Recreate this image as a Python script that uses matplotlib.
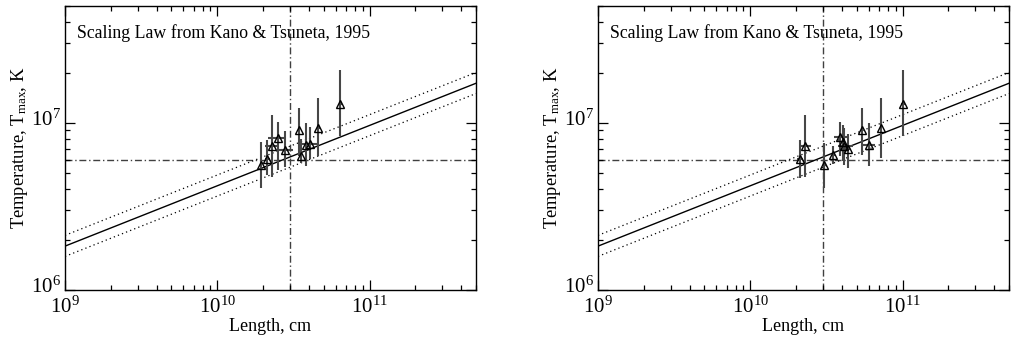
import matplotlib
matplotlib.use("Agg")
import matplotlib.pyplot as plt
import numpy as np
from matplotlib.ticker import LogLocator, NullFormatter
from matplotlib.transforms import ScaledTranslation

plt.rcParams['font.family'] = ['Liberation Serif', 'DejaVu Serif']
plt.rcParams['mathtext.fontset'] = 'custom'
plt.rcParams['mathtext.rm'] = 'Liberation Serif'
plt.rcParams['mathtext.it'] = 'Liberation Serif:italic'

# ---- data: left panel ----
left_L = [1.94e10, 2.13e10, 2.30e10, 2.50e10, 2.79e10, 3.43e10, 3.56e10, 3.80e10, 4.09e10, 4.62e10, 6.41e10]
left_T = [5.61e6, 6.07e6, 7.23e6, 8.12e6, 6.91e6, 9.12e6, 6.30e6, 7.40e6, 7.47e6, 9.29e6, 1.29e7]
left_T_hi = [7.65e6, 7.87e6, 1.12e7, 1.01e7, 8.99e6, 1.23e7, 8.0e6, 9.91e6, 9.42e6, 1.40e7, 2.07e7]
left_T_lo = [4.06e6, 4.9e6, 4.71e6, 5.23e6, 5.41e6, 6.3e6, 5.74e6, 5.53e6, 6.10e6, 6.3e6, 8.31e6]
left_L_lo = [1.90e10, 2.05e10, 2.06e10, 2.15e10, 2.52e10, 3.38e10, 3.50e10, 3.72e10, 3.43e10, 4.55e10, 6.30e10]
left_L_hi = [1.98e10, 2.22e10, 2.56e10, 2.83e10, 3.12e10, 3.48e10, 3.62e10, 3.88e10, 4.62e10, 4.70e10, 6.55e10]

# ---- data: right panel ----
right_L = [2.12e10, 2.29e10, 3.06e10, 3.51e10, 3.90e10, 4.04e10, 4.14e10, 4.36e10, 5.38e10, 5.98e10, 7.21e10, 1.0e11]
right_T = [6.07e6, 7.23e6, 5.61e6, 6.39e6, 8.20e6, 7.65e6, 7.23e6, 7.0e6, 9.12e6, 7.34e6, 9.25e6, 1.29e7]
right_T_hi = [7.94e6, 1.12e7, 7.6e6, 7.23e6, 1.01e7, 9.7e6, 9.3e6, 8.6e6, 1.23e7, 9.91e6, 1.40e7, 2.07e7]
right_T_lo = [4.66e6, 4.71e6, 4.06e6, 5.66e6, 6.3e6, 5.9e6, 5.6e6, 5.4e6, 6.4e6, 5.5e6, 6.2e6, 8.31e6]
right_L_lo = [2.02e10, 2.15e10, 3.00e10, 3.45e10, 3.55e10, 3.90e10, 3.75e10, 4.20e10, 5.30e10, 5.40e10, 7.10e10, 9.8e10]
right_L_hi = [2.22e10, 2.50e10, 3.12e10, 3.58e10, 4.35e10, 4.20e10, 4.70e10, 4.55e10, 5.45e10, 6.60e10, 7.35e10, 1.03e11]

# scaling law (Kano & Tsuneta 1995) and its band
LAW_L_REF = 1e9
LAW_T_REF = 1.83e6
LAW_INDEX = 0.361
BAND_HI = 1.16
BAND_LO = 0.868

L_REF_LINE = 3e10
T_REF_LINE = 6e6

XLIM = (1e9, 5e11)
YLIM = (1e6, 5e7)

fig = plt.figure(figsize=(10.12, 3.39), dpi=100)
ax1 = fig.add_axes([65/1012, 1-290/339, 411/1012, 284/339])
ax2 = fig.add_axes([598/1012, 1-290/339, 411/1012, 284/339])

def draw(ax, L, T, Thi, Tlo, Llo, Lhi):
    L = np.array(L); T = np.array(T)
    yerr = [T - np.array(Tlo), np.array(Thi) - T]
    xerr = [L - np.array(Llo), np.array(Lhi) - L]
    ax.errorbar(L, T, yerr=yerr, xerr=xerr, fmt='none', ecolor='0.28', elinewidth=1.5, capsize=0, zorder=3)
    ax.plot(L, T, linestyle='none', marker='^', markersize=6, markerfacecolor='none',
            markeredgecolor='black', markeredgewidth=1.0, zorder=4)
    xs = np.array(XLIM)
    law = LAW_T_REF * (xs / LAW_L_REF) ** LAW_INDEX
    ax.plot(xs, law, color='black', lw=1.0, zorder=2)
    ax.plot(xs, law * BAND_HI, color='black', lw=0.9, ls=(0, (1, 2.5)), zorder=2)
    ax.plot(xs, law * BAND_LO, color='black', lw=0.9, ls=(0, (1, 2.5)), zorder=2)
    ax.axvline(L_REF_LINE, color='0.25', lw=1.0, ls=(0, (5, 2, 1, 2)), zorder=1)
    ax.axhline(T_REF_LINE, color='0.25', lw=1.0, ls=(0, (5, 2, 1, 2)), zorder=1)
    ax.set_xscale('log'); ax.set_yscale('log')
    ax.set_xlim(*XLIM); ax.set_ylim(*YLIM)
    ax.xaxis.set_major_locator(LogLocator(base=10, numticks=10))
    ax.yaxis.set_major_locator(LogLocator(base=10, numticks=10))
    ax.xaxis.set_minor_locator(LogLocator(base=10, subs=np.arange(2, 10), numticks=20))
    ax.yaxis.set_minor_locator(LogLocator(base=10, subs=np.arange(2, 10), numticks=20))
    ax.xaxis.set_minor_formatter(NullFormatter())
    ax.yaxis.set_minor_formatter(NullFormatter())
    ax.tick_params(which='both', direction='in', top=True, right=True, labelsize=15, width=0.9)
    ax.tick_params(which='major', length=7)
    ax.tick_params(which='minor', length=3.5)
    ax.tick_params(axis='x', pad=5)
    ax.tick_params(axis='y', pad=3)
    for s in ax.spines.values():
        s.set_linewidth(1.0)
    ax.set_xlabel('Length, cm', fontsize=13, labelpad=0)
    ax.set_ylabel(r'Temperature, T$_{\rm max}$, K', fontsize=13.3, labelpad=1)
    ax.text(0.029, 0.905, 'Scaling Law from Kano & Tsuneta, 1995', transform=ax.transAxes,
            fontsize=12.8, ha='left', va='center')
    off = ScaledTranslation(0, 4/72, fig.dpi_scale_trans)
    for t in ax.yaxis.get_major_ticks():
        t.label1.set_transform(t.label1.get_transform() + off)

draw(ax1, left_L, left_T, left_T_hi, left_T_lo, left_L_lo, left_L_hi)
draw(ax2, right_L, right_T, right_T_hi, right_T_lo, right_L_lo, right_L_hi)

fig.savefig('out.png', dpi=100)
